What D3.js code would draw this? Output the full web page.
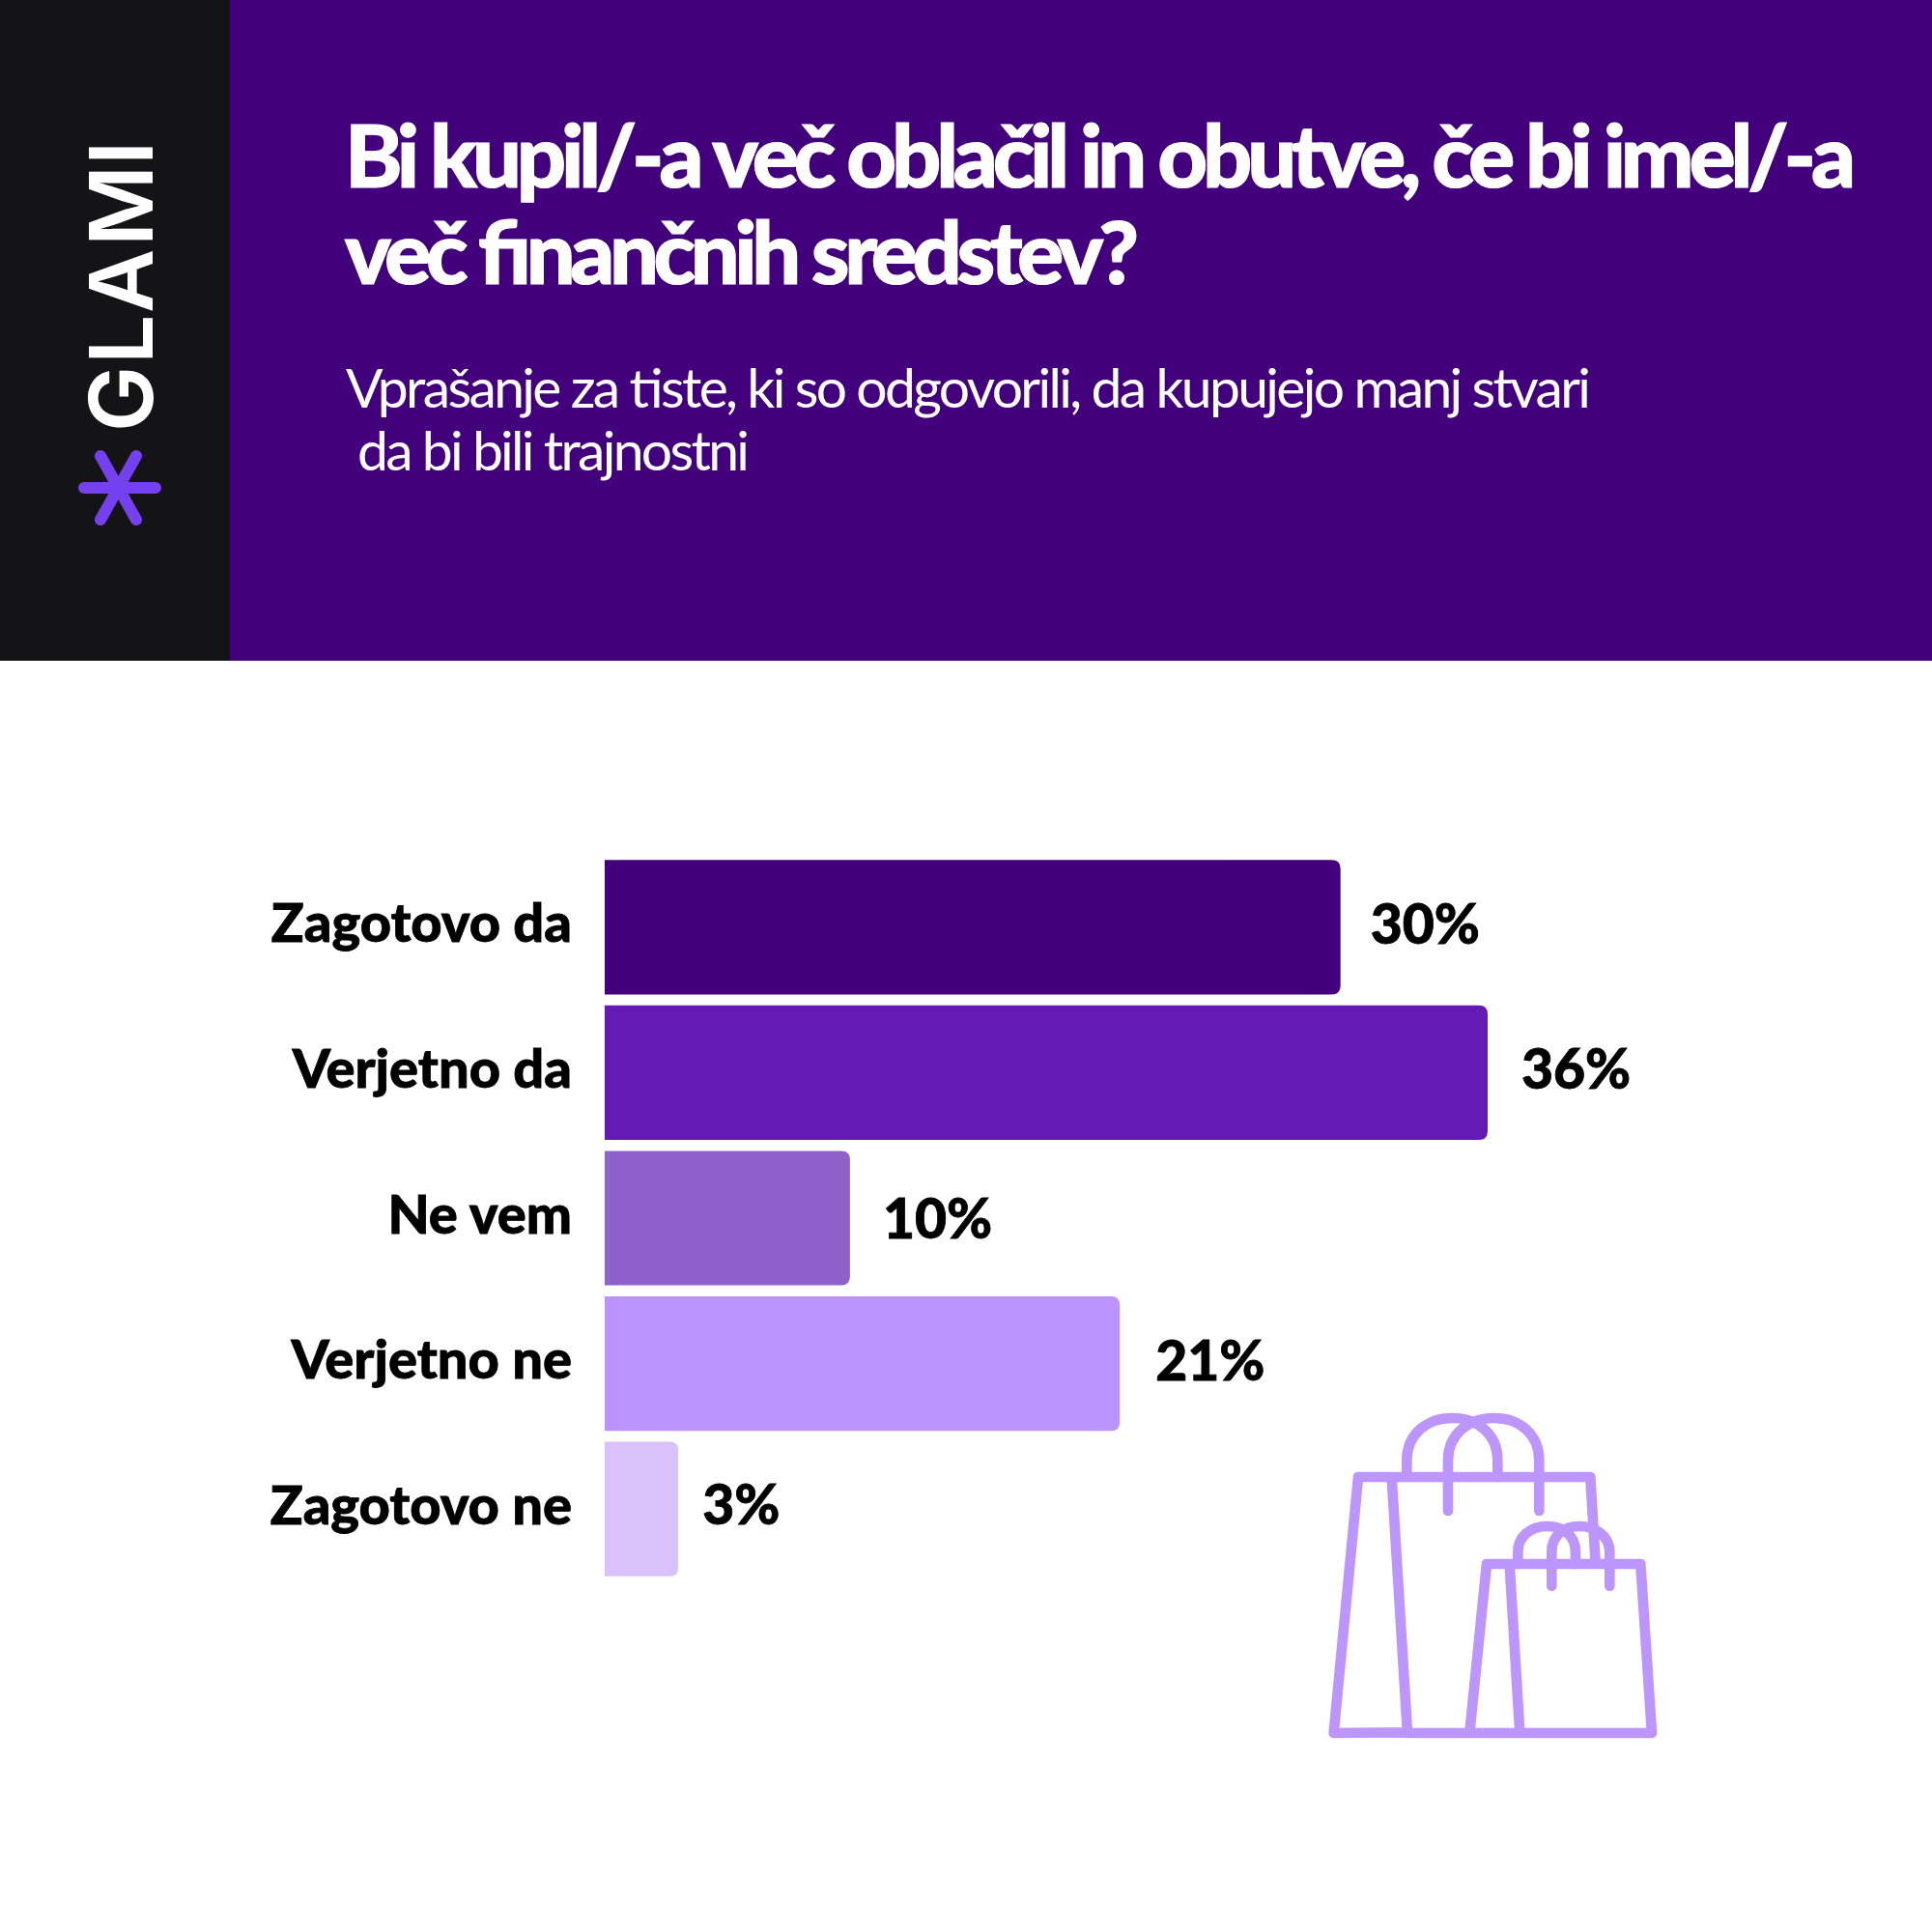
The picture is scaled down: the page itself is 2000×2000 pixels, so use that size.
<!DOCTYPE html>
<html>
<head>
<meta charset="utf-8">
<script src="https://cdn.jsdelivr.net/npm/d3@7/dist/d3.min.js"></script>
<style>
  html, body { margin: 0; padding: 0; background: #fff; }
  text { font-family: Lato, sans-serif; }
</style>
</head>
<body>
<svg id="chart" width="2000" height="2000"></svg>
<script>
// survey answers, top to bottom
const categories = ["Zagotovo da", "Verjetno da", "Ne vem", "Verjetno ne", "Zagotovo ne"];
const values = [30, 36, 10, 21, 3];
const barColors = ["#42007d", "#661ab5", "#8f60c9", "#bb93fd", "#d9c2fc"];

const titleLines = ["Bi kupil/-a več oblačil in obutve, če bi imel/-a", "več finančnih sredstev?"];
const subtitleLines = ["Vprašanje za tiste, ki so odgovorili, da kupujejo manj stvari", "da bi bili trajnostni"];

// the value labels were placed by hand in the original, not on a grid
const valueDx = [31, 35, 34, 37, 25];
const valueDy = [17.5, 17, 21, 17, 15.5];

const svg = d3.select("#chart");

// header
svg.append("rect").attr("width", 2000).attr("height", 684).attr("fill", "#42007d");
svg.append("rect").attr("width", 238).attr("height", 684).attr("fill", "#141416");

// logo, letters are spaced wide so each one gets its own x
svg.append("text")
  .attr("transform", "translate(157.5,442) rotate(-90)")
  .attr("x", "-5 65 118 187 271")
  .attr("font-size", 91)
  .attr("font-weight", 600)
  .attr("fill", "#fff")
  .style("font-family", "Inter")
  .text("GLAMI");

const star = svg.append("g").attr("stroke", "#7540ee").attr("stroke-width", 12).attr("stroke-linecap", "round");
star.append("line").attr("x1", 87).attr("x2", 161).attr("y1", 505).attr("y2", 505);
star.append("line").attr("x1", 104).attr("x2", 141).attr("y1", 472).attr("y2", 538);
star.append("line").attr("x1", 141).attr("x2", 104).attr("y1", 472).attr("y2", 538);

// title + subtitle
const titleX = [357, 357], titleY = [194, 294], titleEnd = [1921, 1179];
svg.selectAll(".title").data(titleLines).join("text")
  .attr("class", "title")
  .attr("x", (d, i) => titleX[i])
  .attr("y", (d, i) => titleY[i])
  .attr("font-size", 90)
  .attr("font-weight", 900)
  .attr("fill", "#fff")
  .attr("stroke", "#fff")
  .attr("stroke-width", 1.2)
  .attr("textLength", (d, i) => titleEnd[i] - titleX[i])
  .attr("lengthAdjust", "spacing")
  .text(d => d);

const subX = [358, 370], subY = [422, 487], subEnd = [1647, 776];
svg.selectAll(".subtitle").data(subtitleLines).join("text")
  .attr("class", "subtitle")
  .attr("x", (d, i) => subX[i])
  .attr("y", (d, i) => subY[i])
  .attr("font-size", 57)
  .attr("font-weight", 400)
  .attr("fill", "#fff")
  .attr("textLength", (d, i) => subEnd[i] - subX[i])
  .attr("lengthAdjust", "spacing")
  .text(d => d);

// bars
const x = d3.scaleLinear().domain([0, 36]).range([626, 1540]);
const y = d3.scaleBand().domain(categories).range([885, 1637]).paddingInner(0.076).paddingOuter(0.035);

svg.selectAll(".bar").data(values).join("path")
  .attr("class", "bar")
  .attr("fill", (d, i) => barColors[i])
  .attr("d", (d, i) => {
    const x0 = x(0), x1 = x(d), y0 = y(categories[i]), h = y.bandwidth(), r = 9;
    return `M${x0},${y0}H${x1 - r}Q${x1},${y0} ${x1},${y0 + r}V${y0 + h - r}Q${x1},${y0 + h} ${x1 - r},${y0 + h}H${x0}Z`;
  });

svg.selectAll(".cat").data(categories).join("text")
  .attr("class", "cat")
  .attr("x", 592)
  .attr("y", d => y(d) + y.bandwidth() / 2 + 15.5)
  .attr("text-anchor", "end")
  .attr("font-size", 56)
  .attr("font-weight", 900)
  .attr("fill", "#000")
  .attr("stroke", "#000")
  .attr("stroke-width", 0.8)
  .text(d => d);

svg.selectAll(".val").data(values).join("text")
  .attr("class", "val")
  .attr("x", (d, i) => x(d) + valueDx[i])
  .attr("y", (d, i) => y(categories[i]) + y.bandwidth() / 2 + valueDy[i])
  .attr("font-size", 57)
  .attr("font-weight", 900)
  .attr("fill", "#000")
  .attr("stroke", "#000")
  .attr("stroke-width", 0.8)
  .text(d => d + "%");

// shopping bags icon
const icon = svg.append("g")
  .attr("transform", "translate(1340,1430) scale(0.3333)")
  .attr("fill", "none")
  .attr("stroke", "#bd96fd")
  .attr("stroke-width", 32)
  .attr("stroke-linecap", "round")
  .attr("stroke-linejoin", "round");
icon.append("path").attr("d", "M351,1090L122,1092L198,297H919L935,560M302,297L351,1092H1110L1075,567H597L544,1092M668,567L700,1092");
icon.append("path").attr("d", "M349,297V245C349,165 410,114 490,114C570,114 631,165 631,245V297");
icon.append("path").attr("d", "M477,402V245C477,165 540,114 620,114C700,114 760,165 760,245V402");
icon.append("path").attr("d", "M694,567V530C694,480 735,450 785,450C835,450 873,480 873,530V567");
icon.append("path").attr("d", "M799,635V530C799,480 835,450 885,450C935,450 979,480 979,530V635");
</script>
</body>
</html>
